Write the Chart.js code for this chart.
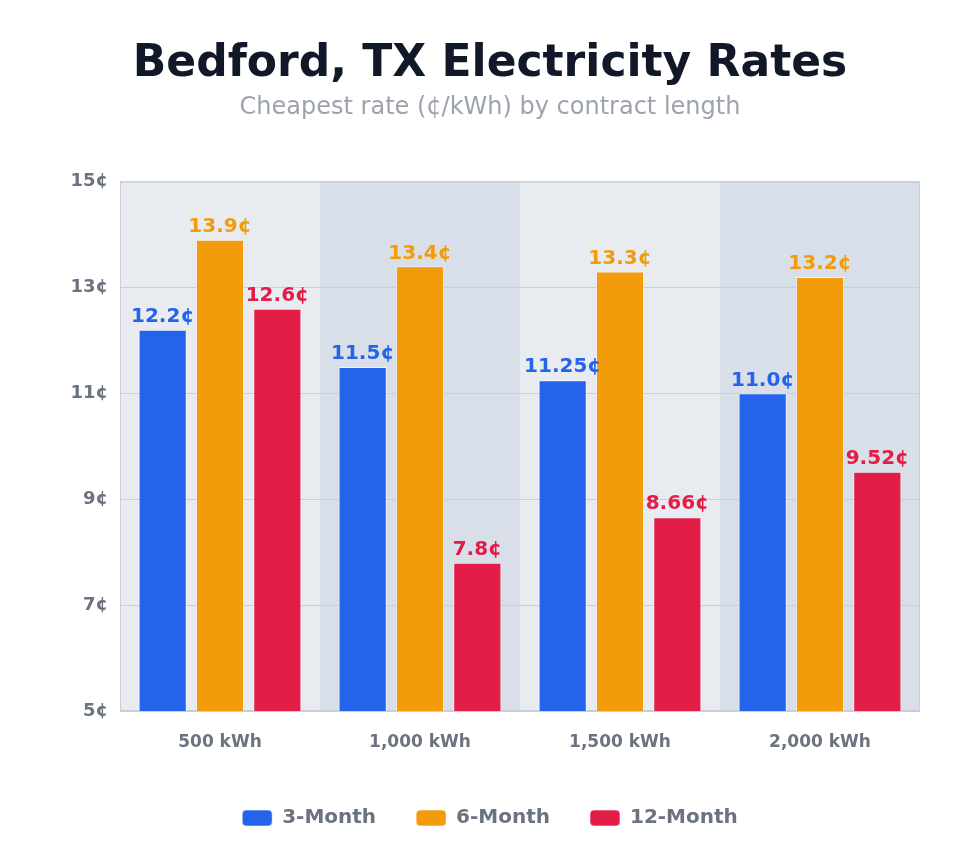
<!DOCTYPE html>
<html>
<head>
<meta charset="utf-8">
<script src="https://cdn.jsdelivr.net/npm/chart.js@4.4.1/dist/chart.umd.min.js"></script>
<style>
  html, body { margin: 0; padding: 0; background: #fff; }
  #wrap { width: 980px; height: 860px; position: relative; }
</style>
</head>
<body>
<div id="wrap"><canvas id="ratesChart" width="980" height="860"></canvas></div>
<script>
// ── Data ──────────────────────────────────────────────────
const usageLevels = ['500 kWh', '1,000 kWh', '1,500 kWh', '2,000 kWh'];
const contractNames = ['3-Month', '6-Month', '12-Month'];
const rates3Month = [12.2, 11.5, 11.25, 11.0];
const rates6Month = [13.9, 13.4, 13.3, 13.2];
const rates12Month = [12.6, 7.8, 8.66, 9.52];
const yTicks = [5, 7, 9, 11, 13, 15];

const barColors = ['#2563eb', '#f39c0b', '#e11d48'];
const FONT = "'DejaVu Sans', sans-serif";

function fmt(v) {
  return (Number.isInteger(v) ? v.toFixed(1) : String(v)) + '¢';
}

// ── Band backgrounds + plot border ────────────────────────
const bandPlugin = {
  id: 'bands',
  beforeDraw(chart) {
    const { ctx, chartArea: a, scales: { x } } = chart;
    const step = (a.right - a.left) / usageLevels.length;
    ctx.save();
    usageLevels.forEach((_, i) => {
      const cx = x.getPixelForValue(i);
      ctx.fillStyle = i % 2 === 0 ? '#e8ebf0' : '#d9dfe8';
      ctx.fillRect(cx - step / 2, a.top, step, a.bottom - a.top);
    });
    ctx.restore();
  },
  beforeDatasetsDraw(chart) {
    const { ctx, chartArea: a } = chart;
    ctx.save();
    ctx.strokeStyle = '#c9ced8';
    ctx.lineWidth = 1;
    ctx.strokeRect(a.left + 0.5, a.top + 0.5, a.right - a.left - 1, a.bottom - a.top - 1);
    ctx.restore();
  }
};

// ── Value labels above bars ───────────────────────────────
const valueLabelPlugin = {
  id: 'valueLabels',
  afterDatasetsDraw(chart) {
    const { ctx } = chart;
    ctx.save();
    ctx.font = `bold 20px ${FONT}`;
    ctx.textAlign = 'center';
    ctx.textBaseline = 'bottom';
    chart.data.datasets.forEach((ds, di) => {
      const meta = chart.getDatasetMeta(di);
      ctx.fillStyle = barColors[di];
      meta.data.forEach((bar, i) => {
        ctx.fillText(fmt(ds.data[i]), bar.x, bar.y - 3);
      });
    });
    ctx.restore();
  }
};

const seriesValues = [rates3Month, rates6Month, rates12Month];

new Chart(document.getElementById('ratesChart').getContext('2d'), {
  type: 'bar',
  data: {
    labels: usageLevels,
    datasets: contractNames.map((name, i) => ({
      label: name,
      data: seriesValues[i],
      backgroundColor: barColors[i],
      borderColor: 'rgba(255,255,255,0.55)',
      borderWidth: 1,
      categoryPercentage: 0.86,
      barPercentage: 0.84
    }))
  },
  plugins: [bandPlugin, valueLabelPlugin],
  options: {
    responsive: false,
    animation: false,
    layout: { padding: { top: 0, right: 60, bottom: 22, left: 60 } },
    plugins: {
      title: {
        display: true,
        text: 'Bedford, TX Electricity Rates',
        color: '#111827',
        font: { family: FONT, size: 44, weight: 'bold' },
        padding: { top: 38, bottom: 3 }
      },
      subtitle: {
        display: true,
        text: 'Cheapest rate (¢/kWh) by contract length',
        color: '#9ca3af',
        font: { family: FONT, size: 24 },
        padding: { top: 0, bottom: 59 }
      },
      legend: {
        position: 'bottom',
        labels: {
          color: '#6b7280',
          font: { family: FONT, size: 20, weight: 'bold' },
          boxWidth: 30,
          boxHeight: 16,
          useBorderRadius: true,
          borderRadius: 4,
          padding: 40
        }
      },
      tooltip: { enabled: false }
    },
    scales: {
      x: {
        grid: { display: false },
        border: { display: false },
        ticks: {
          color: '#6b7280',
          font: { family: FONT, size: 17, weight: 'bold' },
          padding: 13
        },
        afterFit(scale) { scale.height = 57; }
      },
      y: {
        min: 5,
        max: 15,
        grid: { color: '#c9ced8', drawTicks: false },
        border: { display: false },
        afterBuildTicks(scale) { scale.ticks = yTicks.map(v => ({ value: v })); },
        ticks: {
          color: '#6b7280',
          font: { family: FONT, size: 18, weight: 'bold' },
          padding: 12,
          callback: v => v + '¢'
        },
        afterFit(scale) { scale.width = 60; }
      }
    }
  }
});
</script>
</body>
</html>
